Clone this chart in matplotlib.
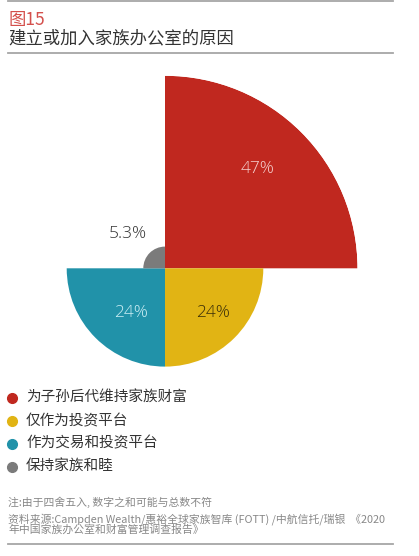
import numpy as np
import matplotlib
matplotlib.use('Agg')
import matplotlib.pyplot as plt
from matplotlib.lines import Line2D

plt.rcParams['font.family'] = ['Noto Sans CJK SC', 'DejaVu Sans']

# data
categories = ['为子孙后代维持家族财富', '仅作为投资平台', '作为交易和投资平台', '保持家族和睦']
values = [47, 24, 24, 5.3]
labels = ['47%', '24%', '24%', '5.3%']
angles_deg = [45, 315, 225, 135]  # quadrant centres
colors = ['#C0281F', '#E1B414', '#2192A9', '#7B7B7B']
label_colors = ['#F6D2D0', '#3A2E08', '#CDEFF5', '#333333']
label_pos = [(47, 33), (-43, 16), (233, 13.6), (137, 12.3)]  # (angle, r)

W, H = 419, 556
fig = plt.figure(figsize=(W / 100, H / 100), dpi=100)

# polar axes: centre at (165, 268) px, radius 192.5 px for r=47
cx, cy, R = 165, 268.3, 192.5
ax = fig.add_axes([(cx - R) / W, (H - cy - R) / H, 2 * R / W, 2 * R / H], projection='polar')
theta = np.deg2rad(angles_deg)
ax.bar(theta, values, width=np.pi / 2, color=colors, align='center', linewidth=0)
ax.set_ylim(0, max(values))
ax.grid(False)
ax.set_xticks([])
ax.set_yticks([])
ax.spines['polar'].set_visible(False)
ax.patch.set_alpha(0)

for (a, r), t, c in zip(label_pos, labels, label_colors):
    ax.text(np.deg2rad(a), r, t, ha='center', va='center', fontsize=12.5,
            color=c, family=['Open Sans', 'DejaVu Sans'], fontweight='light')

# rules
for yp in [1, 53, 544]:
    fig.add_artist(Line2D([8 / W, 393 / W], [1 - yp / H, 1 - yp / H],
                          color='#a6a6a6', lw=1.3))

# title
fig.text(8 / W, 1 - 20 / H, '图15', color='#D4504C', fontsize=12.5, va='center',
         fontweight='light')
fig.text(8 / W, 1 - 38 / H, '建立或加入家族办公室的原因', color='#333333', fontsize=12.5,
         va='center', fontweight='light')

# legend
rows_y = [397.5, 421, 443.5, 466.5]
for yp, cat, c in zip(rows_y, categories, colors):
    fig.add_artist(Line2D([12 / W], [1 - yp / H], marker='o', markersize=7,
                          color=c, linestyle='none'))
    fig.text(26 / W, 1 - yp / H, cat, fontsize=10.5, color='#333333', va='center',
             fontweight='light')

# notes
fig.text(8 / W, 1 - 502 / H, '注:由于四舍五入, 数字之和可能与总数不符',
         fontsize=7.8, color='#888888', va='center')
fig.text(8 / W, 1 - 519 / H,
         '资料来源:Campden Wealth/惠裕全球家族智库 (FOTT) /中航信托/瑞银  《2020',
         fontsize=7.8, color='#888888', va='center')
fig.text(8 / W, 1 - 529.5 / H, '年中国家族办公室和财富管理调查报告》',
         fontsize=7.8, color='#888888', va='center')

fig.savefig('out.png', dpi=100)
